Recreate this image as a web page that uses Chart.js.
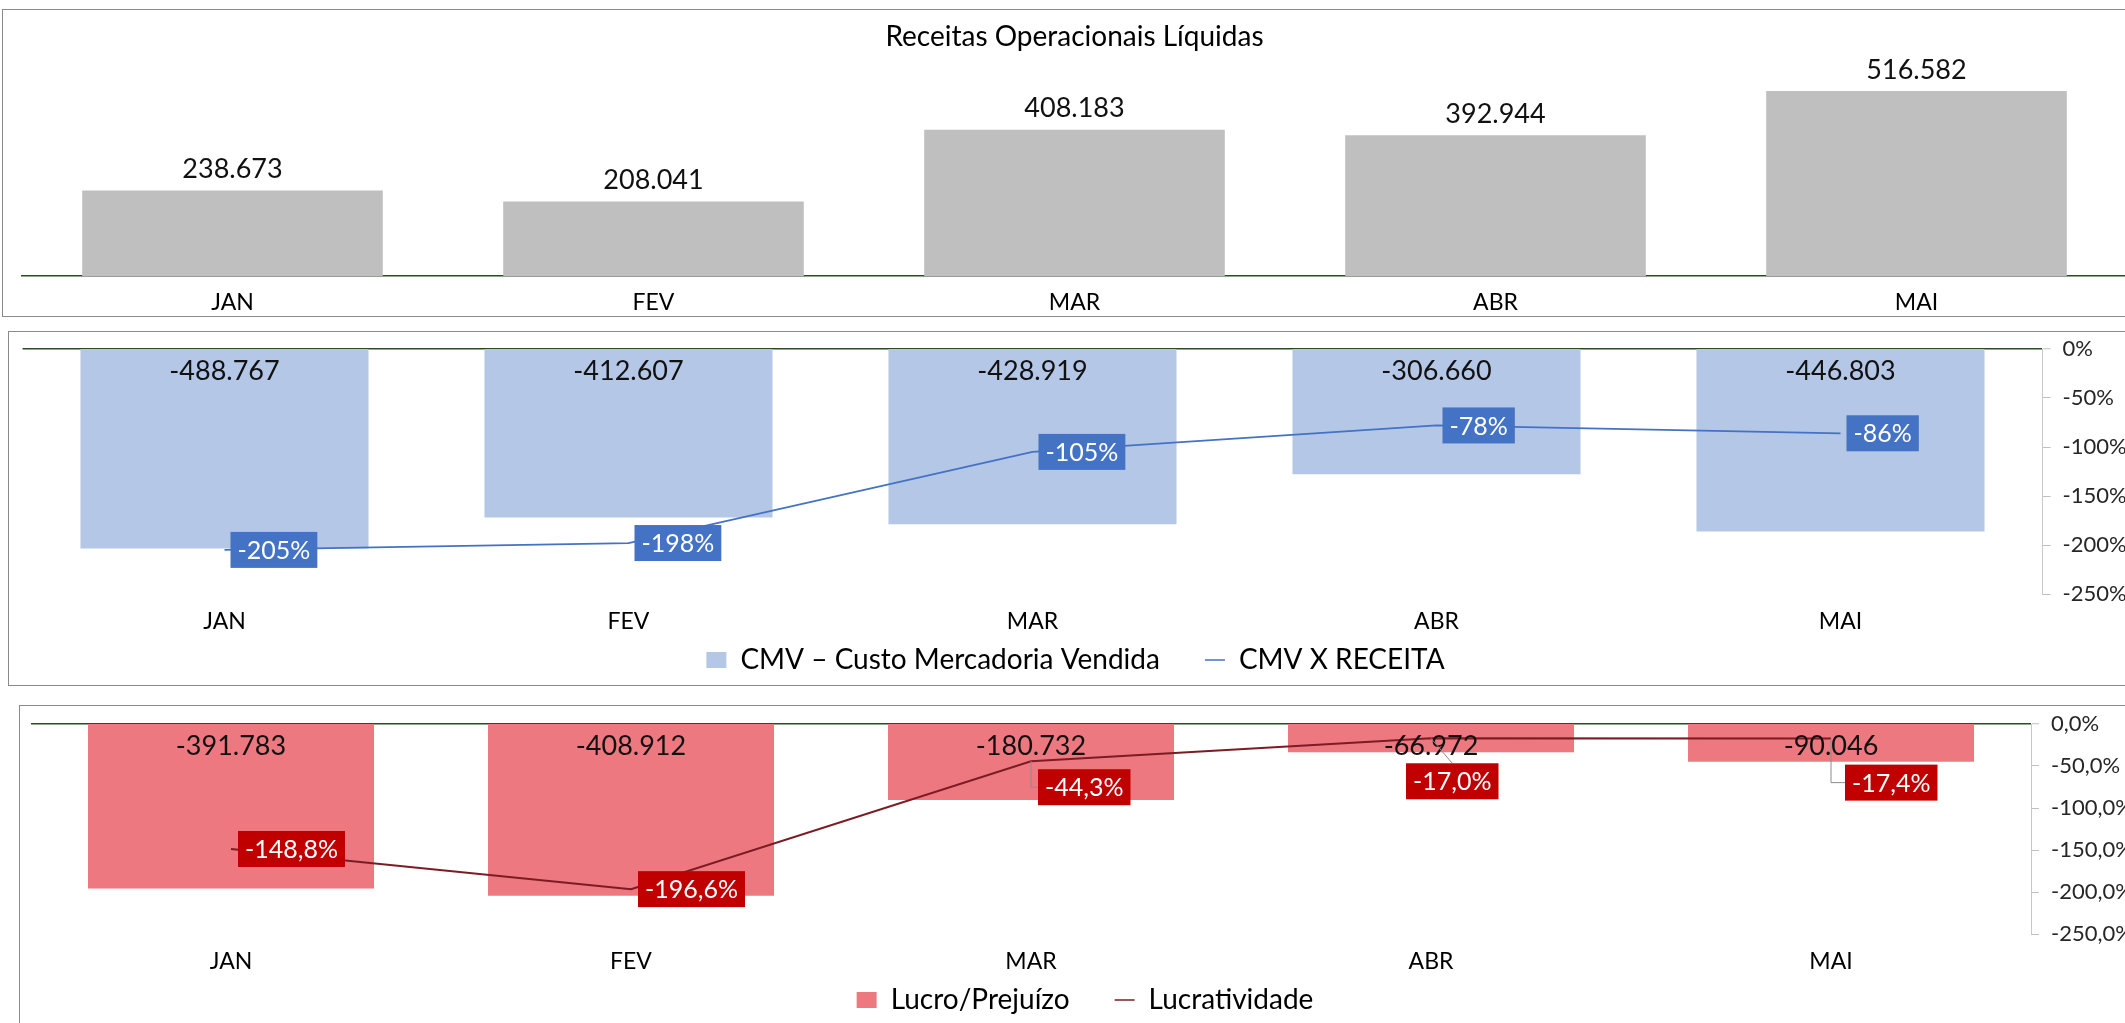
<!DOCTYPE html>
<html>
<head>
<meta charset="utf-8">
<script src="https://cdn.jsdelivr.net/npm/chart.js@4.4.1/dist/chart.umd.min.js"></script>
<style>
  html, body { margin: 0; padding: 0; background: #ffffff; width: 2125px; height: 1023px; overflow: hidden; }
  .panel { position: absolute; border: 1px solid #8a8a8a; background: #fff; }
  .panel canvas { display: block; }
</style>
</head>
<body>
<div class="panel" style="left:2px; top:9px; width:2146px; height:306px;"><canvas id="c1" width="2146" height="306"></canvas></div>
<div class="panel" style="left:8px; top:331px; width:2150px; height:353px;"><canvas id="c2" width="2150" height="353"></canvas></div>
<div class="panel" style="left:19px; top:705px; width:2150px; height:340px;"><canvas id="c3" width="2150" height="320"></canvas></div>
<script>
// ---------- DATA ----------
const months = ['JAN', 'FEV', 'MAR', 'ABR', 'MAI'];
const receitas = [238673, 208041, 408183, 392944, 516582];
const cmv = [-488767, -412607, -428919, -306660, -446803];
const cmvPct = [-205, -198, -105, -78, -86];
const lucro = [-391783, -408912, -180732, -66972, -90046];
const lucratividade = [-148.8, -196.6, -44.3, -17.0, -17.4];

const titleTop = 'Receitas Operacionais Líquidas';
const legendCmv = 'CMV – Custo Mercadoria Vendida';
const legendCmvPct = 'CMV X RECEITA';
const legendLucro = 'Lucro/Prejuízo';
const legendLucrat = 'Lucratividade';

// ---------- HELPERS ----------
const FONT = 'Lato, "Open Sans", sans-serif';
function fmtThousands(v) {
  const s = Math.abs(Math.round(v)).toString().replace(/\B(?=(\d{3})+(?!\d))/g, '.');
  return (v < 0 ? '-' : '') + s;
}
function fmtPct0(v) { return Math.round(v) + '%'; }
function fmtPct1(v) { return v.toFixed(1).replace('.', ',') + '%'; }

function makeLabelPlugin(cfg) {
  return {
    id: 'valueLabels',
    afterDatasetsDraw(chart) {
      const ctx = chart.ctx;
      chart.data.datasets.forEach((ds, di) => {
        const c = cfg[di];
        if (!c) return;
        const meta = chart.getDatasetMeta(di);
        meta.data.forEach((el, i) => {
          const v = ds.data[i];
          const text = c.format(v);
          ctx.save();
          ctx.font = c.font;
          if (c.kind === 'bar') {
            const y = v >= 0 ? el.y - c.gap : el.base + c.gap;
            ctx.fillStyle = c.color;
            ctx.textAlign = 'center';
            ctx.textBaseline = 'middle';
            ctx.fillText(text, el.x, y);
          } else {
            const sh = (c.shift && c.shift[i]) || null;
            const w = ctx.measureText(text).width + 2 * c.padX;
            const h = c.boxH;
            const bx = sh ? el.x + sh[0] : el.x + c.dx;
            const cy = sh ? el.y + sh[1] : el.y;
            const by = cy - h / 2;
            if (sh) {
              ctx.strokeStyle = '#8c8c8c';
              ctx.lineWidth = 1;
              ctx.beginPath();
              if (bx > el.x) {
                ctx.moveTo(el.x, el.y);
                ctx.lineTo(el.x, cy);
                ctx.lineTo(bx, cy);
              } else {
                ctx.moveTo(el.x, el.y);
                ctx.lineTo(bx + w / 2, by);
              }
              ctx.stroke();
            }
            ctx.fillStyle = c.bg;
            ctx.fillRect(bx, by, w, h);
            ctx.fillStyle = '#ffffff';
            ctx.textAlign = 'left';
            ctx.textBaseline = 'middle';
            ctx.fillText(text, bx + c.padX, cy + 1);
          }
          ctx.restore();
        });
      });
    }
  };
}

function legendLabels(chart) {
  const items = Chart.defaults.plugins.legend.labels.generateLabels(chart);
  items.forEach(it => {
    const ds = chart.data.datasets[it.datasetIndex];
    if (ds.type === 'line') {
      it.pointStyle = 'line';
      it.strokeStyle = ds.borderColor;
      it.fillStyle = ds.borderColor;
      it.lineWidth = 1.5;
    } else {
      it.pointStyle = 'rect';
      it.fillStyle = ds.backgroundColor;
      it.strokeStyle = ds.backgroundColor;
      it.lineWidth = 0;
    }
  });
  return items;
}

function noPadY(s, w) { s.width = w; s.paddingTop = 0; s.paddingBottom = 0; }

Chart.defaults.font.family = FONT;
Chart.defaults.color = '#000000';

const legendOpts = {
  position: 'bottom',
  labels: {
    usePointStyle: true, pointStyleWidth: 20, boxHeight: 16,
    font: { size: 28 }, color: '#000', padding: 45,
    sort: (a, b) => a.datasetIndex - b.datasetIndex,
    generateLabels: legendLabels
  }
};
const zeroGrid = {
  drawOnChartArea: true, tickLength: 8, tickWidth: 1, tickColor: '#bfbfbf',
  lineWidth: c => (c.tick && c.tick.value === 0) ? 1.5 : 1,
  color: c => (c.tick && c.tick.value === 0) ? '#2B4A26' : 'rgba(0,0,0,0)'
};
// category labels drawn below the plot, not clipped to the (thin) axis box
const lowerX = {
  grid: { display: false, drawTicks: false },
  border: { display: false },
  ticks: { font: { size: 23 }, color: '#000', mirror: true, padding: -41.6 },
  afterFit: s => { s.height = 7; }
};

// ---------- CHART 1 ----------
new Chart(document.getElementById('c1'), {
  type: 'bar',
  data: {
    labels: months,
    datasets: [{
      label: titleTop,
      data: receitas,
      backgroundColor: '#BFBFBF',
      categoryPercentage: 1,
      barPercentage: 0.714
    }]
  },
  options: {
    responsive: false,
    animation: false,
    layout: { padding: { left: 19, right: 22, top: 0, bottom: 0 } },
    plugins: {
      legend: { display: false },
      tooltip: { enabled: false },
      title: {
        display: true, text: titleTop, color: '#000',
        font: { family: FONT, size: 28, weight: 'normal' },
        padding: { top: 10.2, bottom: 7.2 }
      }
    },
    scales: {
      x: {
        grid: { display: false, drawTicks: false },
        border: { display: true, color: '#2B4A26', width: 1.5 },
        ticks: { font: { size: 23 }, color: '#000', padding: 13 },
        afterFit: s => { s.height = 40; }
      },
      y: { display: false, min: 0, max: 600000 }
    }
  },
  plugins: [makeLabelPlugin({
    0: { kind: 'bar', format: fmtThousands, font: '27px ' + FONT, color: '#111', gap: 21 }
  })]
});

// ---------- CHART 2 ----------
new Chart(document.getElementById('c2'), {
  type: 'bar',
  data: {
    labels: months,
    datasets: [{
      label: legendCmv,
      data: cmv,
      backgroundColor: '#B4C7E7',
      categoryPercentage: 1,
      barPercentage: 0.713,
      yAxisID: 'y',
      order: 2
    }, {
      type: 'line',
      label: legendCmvPct,
      data: cmvPct,
      borderColor: '#4472C4',
      backgroundColor: '#4472C4',
      borderWidth: 1.75,
      pointRadius: 0,
      tension: 0,
      yAxisID: 'y1',
      order: 1
    }]
  },
  options: {
    responsive: false,
    animation: false,
    layout: { padding: { left: 13.5, right: 30.5, top: 17, bottom: 1 } },
    plugins: {
      tooltip: { enabled: false },
      legend: legendOpts
    },
    scales: {
      x: lowerX,
      y: { display: false, min: -600000, max: 0 },
      y1: {
        position: 'right', min: -250, max: 0, z: 1,
        ticks: { stepSize: 50, font: { size: 22 }, color: '#262626', padding: 12, callback: v => fmtPct0(v) },
        grid: zeroGrid,
        border: { display: true, color: '#c8c8c8', width: 1 },
        afterFit: s => noPadY(s, 86)
      }
    }
  },
  plugins: [makeLabelPlugin({
    0: { kind: 'bar', format: fmtThousands, font: '27px ' + FONT, color: '#111', gap: 22.7 },
    1: { kind: 'line', format: fmtPct0, font: '25px ' + FONT, bg: '#4472C4', padX: 7, boxH: 36, dx: 6 }
  })]
});

// ---------- CHART 3 ----------
new Chart(document.getElementById('c3'), {
  type: 'bar',
  data: {
    labels: months,
    datasets: [{
      label: legendLucro,
      data: lucro,
      backgroundColor: '#EE7880',
      categoryPercentage: 1,
      barPercentage: 0.715,
      yAxisID: 'y',
      order: 2
    }, {
      type: 'line',
      label: legendLucrat,
      data: lucratividade,
      borderColor: '#7B1C24',
      backgroundColor: '#7B1C24',
      borderWidth: 2,
      pointRadius: 0,
      tension: 0,
      yAxisID: 'y1',
      order: 1
    }]
  },
  options: {
    responsive: false,
    animation: false,
    layout: { padding: { left: 11, right: 31, top: 18, bottom: 2 } },
    plugins: {
      tooltip: { enabled: false },
      legend: legendOpts
    },
    scales: {
      x: lowerX,
      y: { display: false, min: -500000, max: 0 },
      y1: {
        position: 'right', min: -250, max: 0, z: 1,
        ticks: { stepSize: 50, font: { size: 22 }, color: '#262626', padding: 12, callback: v => fmtPct1(v) },
        grid: zeroGrid,
        border: { display: true, color: '#c8c8c8', width: 1 },
        afterFit: s => noPadY(s, 108)
      }
    }
  },
  plugins: [makeLabelPlugin({
    0: { kind: 'bar', format: fmtThousands, font: '27px ' + FONT, color: '#111', gap: 22.7 },
    1: { kind: 'line', format: fmtPct1, font: '25px ' + FONT, bg: '#C00000', padX: 7, boxH: 36, dx: 7,
         shift: [null, null, [7, 26], [-25, 43], [14, 44]] }
  })]
});
</script>
</body>
</html>
